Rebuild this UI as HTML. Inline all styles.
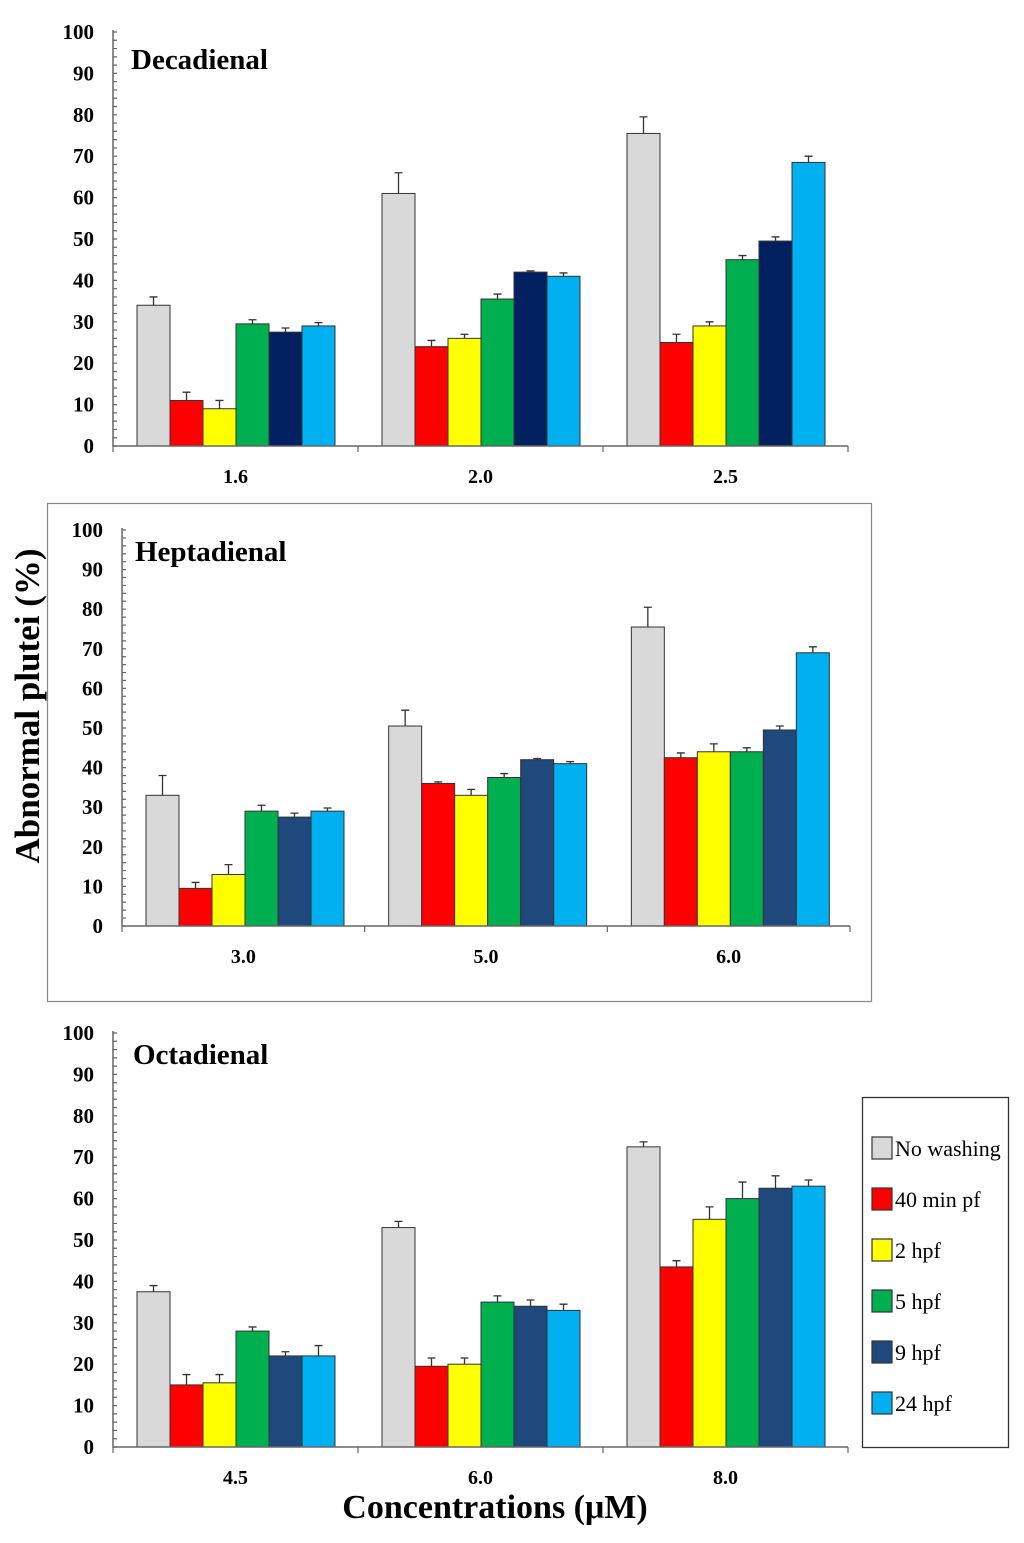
<!DOCTYPE html>
<html><head><meta charset="utf-8"><style>
html,body{margin:0;padding:0;background:#fff}
svg text{font-family:"Liberation Serif",serif}
</style></head><body>
<svg id="svg" width="1024" height="1538" viewBox="0 0 1024 1538" xmlns="http://www.w3.org/2000/svg">
<rect x="47.5" y="503.5" width="824" height="498" fill="none" stroke="#888" stroke-width="1.2"/>
<text x="0" y="0" transform="translate(39,706) rotate(-90)" text-anchor="middle" font-size="35" font-weight="bold">Abnormal plutei (%)</text>
<text x="495" y="1518" text-anchor="middle" font-size="34" font-weight="bold">Concentrations (μM)</text>
<g id="legend"></g>
</svg>
<script>
const seriesNames = ["No washing","40 min pf","2 hpf","5 hpf","9 hpf","24 hpf"];
const colors1 = ["#d9d9d9","#ff0000","#ffff00","#00b050","#002060","#00b0f0"];
const colors2 = ["#d9d9d9","#ff0000","#ffff00","#00b050","#1f497d","#00b0f0"];
const yTicks = [0,10,20,30,40,50,60,70,80,90,100];

const decCats = ["1.6","2.0","2.5"];
const decVals = [[34,11,9,29.5,27.5,29],[61,24,26,35.5,42,41],[75.5,25,29,45,49.5,68.5]];
const decErr  = [[2,2,2,1,1,0.8],[5,1.5,1,1.2,0.3,0.8],[4,2,1,1,1,1.5]];

const hepCats = ["3.0","5.0","6.0"];
const hepVals = [[33,9.5,13,29,27.5,29],[50.5,36,33,37.5,42,41],[75.5,42.5,44,44,49.5,69]];
const hepErr  = [[5,1.5,2.5,1.5,1,0.8],[4,0.4,1.5,1,0.3,0.5],[5,1.2,2,1,1,1.5]];

const octCats = ["4.5","6.0","8.0"];
const octVals = [[37.5,15,15.5,28,22,22],[53,19.5,20,35,34,33],[72.5,43.5,55,60,62.5,63]];
const octErr  = [[1.5,2.5,2,1,1,2.5],[1.5,2,1.5,1.5,1.5,1.5],[1.2,1.5,3,4,3,1.5]];

const NS="http://www.w3.org/2000/svg";
const svg=document.getElementById('svg');
function mk(tag,attrs,parent){const e=document.createElementNS(NS,tag);for(const k in attrs)e.setAttribute(k,attrs[k]);(parent||svg).appendChild(e);return e;}

function panel(o){
  const g=mk('g',{});
  
  
  const y=v=>o.y0-(v/100)*(o.y0-o.y100);
  const gw=(o.x1-o.x0)/o.cats.length;
  const bw=33, off=24;
  const bx=(gi,si)=>o.x0+gi*gw+off+si*bw;
  o.vals.forEach((grp,gi)=>grp.forEach((v,si)=>{
    const x=bx(gi,si), top=y(v), e=o.err[gi][si];
    const eb=mk('path',{d:`M${x+bw/2} ${top}V${y(v+e)}M${x+bw/2-4} ${y(v+e)}H${x+bw/2+4}`,stroke:'#333','stroke-width':1.3,fill:'none'},g);
    
    
    const r=mk('rect',{x:x,y:top,width:bw,height:o.y0-top,fill:o.colors[si],stroke:'#333','stroke-width':1},g);
    
    
  }));
  const ax=mk('path',{d:`M${o.x0} ${o.y100-2}V${o.y0}H${o.x1}`,stroke:'#666','stroke-width':1.5,fill:'none'},g);
  
  
  let d='';
  for(let v=0;v<=100;v+=2){d+=`M${o.x0} ${y(v)}H${o.x0+4}`;}
  for(let i=0;i<=o.cats.length;i++){const x=o.x0+i*gw;d+=`M${x} ${o.y0}V${o.y0+6}`;}
  mk('path',{d:d,stroke:'#666','stroke-width':1.2,fill:'none'},g);
  yTicks.forEach(v=>{
    const t=mk('text',{x:o.x0-19,y:y(v)+7,'text-anchor':'end','font-size':21,'font-weight':'bold'},g);
    t.textContent=v;
    
    
  });
  o.cats.forEach((c,gi)=>{
    const t=mk('text',{x:o.x0+gi*gw+gw/2,y:o.y0+37,'text-anchor':'middle','font-size':20,'font-weight':'bold'},g);
    t.textContent=c;
    
    
  });
  const tt=mk('text',{x:o.tx,y:o.ty,'font-size':29,'font-weight':'bold'},g);
  tt.textContent=o.title;
  
  
}
panel({name:'decadienal',title:'Decadienal',cats:decCats,vals:decVals,err:decErr,colors:colors1,x0:113,x1:848,y0:446,y100:32,tx:131,ty:69});
panel({name:'heptadienal',title:'Heptadienal',cats:hepCats,vals:hepVals,err:hepErr,colors:colors2,x0:122,x1:850,y0:926,y100:530,tx:135,ty:561});
panel({name:'octadienal',title:'Octadienal',cats:octCats,vals:octVals,err:octErr,colors:colors2,x0:113,x1:848,y0:1447,y100:1033,tx:133,ty:1064});

const lg=document.getElementById('legend');
mk('rect',{x:862.5,y:1097.5,width:146,height:350,fill:'#fff',stroke:'#333','stroke-width':1.3},lg);
seriesNames.forEach((n,i)=>{
  const cy=1148+i*51;
  const r=mk('rect',{x:872,y:cy-11,width:20,height:22,fill:colors2[i],stroke:'#333','stroke-width':1.2},lg);
  
  
  const t=mk('text',{x:895,y:cy+8,'font-size':22},lg);
  t.textContent=n;
  
  
});
</script>
</body></html>
